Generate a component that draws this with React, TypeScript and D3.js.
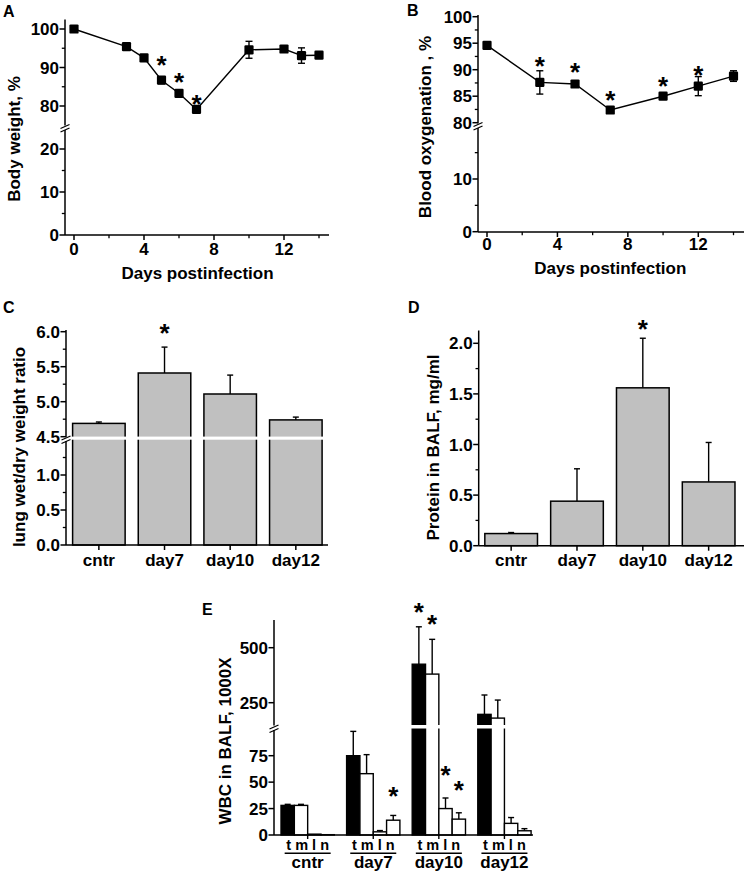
import React from 'react';
import * as d3 from 'd3';

const FONT = "'Liberation Sans', Arial, Helvetica, sans-serif";
const FS = 17;

// ===== Panel A: body weight
const daysA = [0, 3, 4, 5, 6, 7, 10, 12, 13, 14];
const weightA = [100, 95.4, 92.5, 86.7, 83.3, 79.1, 94.6, 94.8, 93.1, 93.2];
const weightErrA = [0.3, 0.5, 0.6, 0.9, 0.6, 0.7, 2.2, 0.5, 2.0, 0.4];
const starDaysA = [5, 6, 7];
const starValsA = [92.1, 87.6, 81.8];
const dayTicks = [0, 4, 8, 12];
const dayMinorTicks = [2, 6, 10, 14];
const yMajorUpA = [80, 90, 100];
const yMinorUpA = [85, 95];
const yMajorLoA = [0, 10, 20];
const yMinorLoA = [5, 15];

// ===== Panel B: blood oxygenation
const daysB = [0, 3, 5, 7, 10, 12, 14];
const oxyB = [94.6, 87.6, 87.3, 82.4, 85.0, 86.9, 88.8];
const oxyErrB = [0.4, 2.2, 0.5, 0.6, 0.4, 1.8, 1.0];
const starDaysB = [3, 5, 7, 10, 12];
const starValsB = [91.7, 90.6, 85.3, 87.9, 90.0];
const yMajorUpB = [80, 85, 90, 95, 100];
const yMinorUpB = [82.5, 87.5, 92.5, 97.5];
const yMajorLoB = [0, 10];
const yMinorLoB = [5, 15];

// ===== Panel C: lung wet/dry ratio
const groups = ['cntr', 'day7', 'day10', 'day12'];
const ratioC = [4.69, 5.41, 5.11, 4.74];
const ratioErrC = [0.02, 0.37, 0.27, 0.04];
const starGroupsC = ['day7'];
const starValsC = [6.06];
const yMajorUpC = [4.5, 5.0, 5.5, 6.0];
const yMinorUpC = [4.75, 5.25, 5.75];
const yMajorLoC = [0, 0.5, 1.0];
const yMinorLoC = [0.25, 0.75, 1.25];

// ===== Panel D: protein in BALF
const proteinD = [0.12, 0.44, 1.56, 0.63];
const proteinErrD = [0.01, 0.32, 0.49, 0.39];
const starGroupsD = ['day10'];
const starValsD = [2.19];
const yMajorD = [0, 0.5, 1.0, 1.5, 2.0];
const yMinorD = [0.25, 0.75, 1.25, 1.75];

// ===== Panel E: WBC in BALF
const cellTypes = ['t', 'm', 'l', 'n'];
const wbcTotal = [28, 75, 425, 197];
const wbcMono = [28, 58, 380, 180];
const wbcLymph = [0.8, 3, 25, 11];
const wbcNeut = [0.3, 14, 15, 4];
const wbcTotalErr = [1, 23, 170, 88];
const wbcMonoErr = [1, 18, 158, 82];
const wbcLymphErr = [0, 1.2, 10, 5.5];
const wbcNeutErr = [0, 4.5, 6, 2];
const starGroupsE = ['day10', 'day10', 'day10', 'day10', 'day7'];
const starTypesE = ['t', 'm', 'l', 'n', 'n'];
const starValsE = [686, 633, 62, 48, 42];
const yMajorUpE = [250, 500];
const yMajorLoE = [0, 25, 50, 75];

const fmt0 = (v: number) => String(v);
const fmt1 = (v: number) => v.toFixed(1);

function YTicks({ scale, x, major, minor, fmt }: any) {
  return (
    <g>
      {major.map((v: number) => (
        <g key={'M' + v}>
          <line x1={x - 5.5} x2={x} y1={scale(v)} y2={scale(v)} stroke="#000" strokeWidth={1.5} />
          <text x={x - 6} y={scale(v) + 6} textAnchor="end" fontSize={FS} fontWeight="bold">{fmt(v)}</text>
        </g>
      ))}
      {minor.map((v: number) => (
        <line key={'m' + v} x1={x - 3.2} x2={x} y1={scale(v)} y2={scale(v)} stroke="#000" strokeWidth={1.3} />
      ))}
    </g>
  );
}

function XTicks({ scale, y, major, minor, labelY }: any) {
  return (
    <g>
      {major.map((v: number) => (
        <g key={'M' + v}>
          <line x1={scale(v)} x2={scale(v)} y1={y} y2={y + 5} stroke="#000" strokeWidth={1.5} />
          <text x={scale(v)} y={labelY} textAnchor="middle" fontSize={FS} fontWeight="bold">{v}</text>
        </g>
      ))}
      {minor.map((v: number) => (
        <line key={'m' + v} x1={scale(v)} x2={scale(v)} y1={y} y2={y + 3.2} stroke="#000" strokeWidth={1.3} />
      ))}
    </g>
  );
}

function BreakMark({ x, y }: any) {
  return (
    <g stroke="#000" strokeWidth={1.3}>
      <line x1={x - 4.5} y1={y} x2={x + 4.5} y2={y - 4} />
      <line x1={x - 4.5} y1={y + 3.5} x2={x + 4.5} y2={y - 0.5} />
    </g>
  );
}

function Star({ x, y, size = 26 }: any) {
  return (
    <text x={x} y={y + size * 0.55} textAnchor="middle" fontSize={size} fontWeight="bold">*</text>
  );
}

function VTitle({ x, y, text }: any) {
  return (
    <text transform={`translate(${x},${y}) rotate(-90)`} textAnchor="middle" fontSize={FS} fontWeight="bold">{text}</text>
  );
}

function ErrBar({ x, y1, y2, cap = 7 }: any) {
  return (
    <g stroke="#000" strokeWidth={1.4}>
      <line x1={x} x2={x} y1={y1} y2={y2} />
      <line x1={x - cap / 2} x2={x + cap / 2} y1={y2} y2={y2} />
    </g>
  );
}

function LinePanel({ letter, letterPos, days, vals, errs, starDays, starVals, x, yUp, yLo, ax, ay, axTop, upBottom, loTop, brk, xEnd,
  majUp, minUp, majLo, minLo, labelY, title, titlePos, yTitle, yTitlePos }: any) {
  const path = d3.line<number>().x((_, i) => x(days[i])).y((d) => yUp(d))(vals) as string;
  return (
    <g>
      <text x={letterPos[0]} y={letterPos[1]} fontSize={16} fontWeight="bold">{letter}</text>
      <line x1={ax} x2={ax} y1={axTop} y2={upBottom} stroke="#000" strokeWidth={1.5} />
      <line x1={ax} x2={ax} y1={loTop} y2={ay} stroke="#000" strokeWidth={1.5} />
      <BreakMark x={ax} y={brk} />
      <line x1={ax} x2={xEnd} y1={ay} y2={ay} stroke="#000" strokeWidth={1.5} />
      <YTicks scale={yUp} x={ax} major={majUp} minor={minUp} fmt={fmt0} />
      <YTicks scale={yLo} x={ax} major={majLo} minor={minLo} fmt={fmt0} />
      <XTicks scale={x} y={ay} major={dayTicks} minor={dayMinorTicks} labelY={labelY} />
      <text x={titlePos[0]} y={titlePos[1]} textAnchor="middle" fontSize={FS} fontWeight="bold">{title}</text>
      <VTitle x={yTitlePos[0]} y={yTitlePos[1]} text={yTitle} />
      <path d={path} fill="none" stroke="#000" strokeWidth={1.4} />
      {vals.map((v: number, i: number) => (
        <g key={i} stroke="#000" strokeWidth={1.4}>
          <line x1={x(days[i])} x2={x(days[i])} y1={yUp(v - errs[i])} y2={yUp(v + errs[i])} />
          <line x1={x(days[i]) - 3.5} x2={x(days[i]) + 3.5} y1={yUp(v + errs[i])} y2={yUp(v + errs[i])} />
          <line x1={x(days[i]) - 3.5} x2={x(days[i]) + 3.5} y1={yUp(v - errs[i])} y2={yUp(v - errs[i])} />
        </g>
      ))}
      {vals.map((v: number, i: number) => (
        <rect key={'p' + i} x={x(days[i]) - 4.6} y={yUp(v) - 4.6} width={9.2} height={9.2} rx={1.2} fill="#000" />
      ))}
      {starDays.map((d: number, i: number) => (
        <Star key={'s' + i} x={x(d)} y={yUp(starVals[i])} />
      ))}
    </g>
  );
}

function PanelA() {
  const x = d3.scaleLinear().domain([0, 14]).range([74, 319]);
  const yUp = d3.scaleLinear().domain([80, 100]).range([106, 29]);
  const yLo = d3.scaleLinear().domain([0, 20]).range([235, 149]);
  return (
    <LinePanel letter="A" letterPos={[3, 16.7]} days={daysA} vals={weightA} errs={weightErrA}
      starDays={starDaysA} starVals={starValsA} x={x} yUp={yUp} yLo={yLo}
      ax={65} ay={235} axTop={19.5} upBottom={125.5} loTop={130} brk={128.5} xEnd={329}
      majUp={yMajorUpA} minUp={yMinorUpA} majLo={yMajorLoA} minLo={yMinorLoA}
      labelY={255} title="Days postinfection" titlePos={[197.5, 279]}
      yTitle="Body weight, %" yTitlePos={[19.5, 139]} />
  );
}

function PanelB() {
  const x = d3.scaleLinear().domain([0, 14]).range([487, 733.5]);
  const yUp = d3.scaleLinear().domain([80, 100]).range([122.7, 16.7]);
  const yLo = d3.scaleLinear().domain([0, 10]).range([231.7, 179]);
  return (
    <LinePanel letter="B" letterPos={[407, 16]} days={daysB} vals={oxyB} errs={oxyErrB}
      starDays={starDaysB} starVals={starValsB} x={x} yUp={yUp} yLo={yLo}
      ax={478} ay={232} axTop={15} upBottom={123.5} loTop={128} brk={126.5} xEnd={744}
      majUp={yMajorUpB} minUp={yMinorUpB} majLo={yMajorLoB} minLo={yMinorLoB}
      labelY={249.5} title="Days postinfection" titlePos={[610.3, 274]}
      yTitle="Blood oxygenation , %" yTitlePos={[431, 127]} />
  );
}

function BarPanel({ letter, letterPos, vals, errs, starGroups, starVals, ax, ay, axTop, xr, yMap, ticksFn, band, yTitle, yTitlePos, xEnd }: any) {
  const x = d3.scaleBand<string>().domain(groups).range(xr).paddingInner(0.2).paddingOuter(0.093);
  return (
    <g>
      <text x={letterPos[0]} y={letterPos[1]} fontSize={16} fontWeight="bold">{letter}</text>
      {vals.map((v: number, i: number) => (
        <g key={i}>
          <ErrBar x={(x(groups[i]) as number) + x.bandwidth() / 2} y1={yMap(v)} y2={yMap(v + errs[i])} cap={6} />
          <rect x={x(groups[i])} y={yMap(v)} width={x.bandwidth()} height={ay - yMap(v)} fill="#c0c0c0" stroke="#000" strokeWidth={1.5} />
        </g>
      ))}
      {band && <rect x={ax + 1} y={band[0]} width={xEnd - ax} height={band[1] - band[0]} fill="#fff" />}
      {ticksFn}
      {groups.map((g) => (
        <g key={g}>
          <line x1={(x(g) as number) + x.bandwidth() / 2} x2={(x(g) as number) + x.bandwidth() / 2} y1={ay} y2={ay + 5} stroke="#000" strokeWidth={1.5} />
          <text x={(x(g) as number) + x.bandwidth() / 2} y={566} textAnchor="middle" fontSize={FS} fontWeight="bold">{g}</text>
        </g>
      ))}
      <line x1={ax} x2={xEnd} y1={ay} y2={ay} stroke="#000" strokeWidth={1.5} />
      {starGroups.map((g: string, i: number) => (
        <Star key={'s' + i} x={(x(g) as number) + x.bandwidth() / 2} y={yMap(starVals[i])} />
      ))}
      <VTitle x={yTitlePos[0]} y={yTitlePos[1]} text={yTitle} />
    </g>
  );
}

function PanelC() {
  const yUp = d3.scaleLinear().domain([4.5, 6.0]).range([436.7, 331.7]);
  const yLo = d3.scaleLinear().domain([0, 1.0]).range([545, 475]);
  const yMap = (v: number) => (v >= 4.5 ? yUp(v) : yLo(v));
  const ax = 66;
  const ticks = (
    <g>
      <line x1={ax} x2={ax} y1={330} y2={437} stroke="#000" strokeWidth={1.5} />
      <line x1={ax} x2={ax} y1={441} y2={545} stroke="#000" strokeWidth={1.5} />
      <BreakMark x={ax} y={440} />
      <YTicks scale={yUp} x={ax} major={yMajorUpC} minor={yMinorUpC} fmt={fmt1} />
      <YTicks scale={yLo} x={ax} major={yMajorLoC} minor={yMinorLoC} fmt={fmt1} />
    </g>
  );
  return (
    <BarPanel letter="C" letterPos={[3, 313.3]} vals={ratioC} errs={ratioErrC} starGroups={starGroupsC} starVals={starValsC}
      ax={ax} ay={545} xr={[66.5, 328.2]} yMap={yMap} ticksFn={ticks} band={[436.6, 439.7]} xEnd={328}
      yTitle="lung wet/dry weight ratio" yTitlePos={[25, 447]} />
  );
}

function PanelD() {
  const y = d3.scaleLinear().domain([0, 2.0]).range([545.7, 343.3]);
  const ax = 478.7;
  const ticks = (
    <g>
      <line x1={ax} x2={ax} y1={330.5} y2={545.7} stroke="#000" strokeWidth={1.5} />
      <YTicks scale={y} x={ax} major={yMajorD} minor={yMinorD} fmt={fmt1} />
    </g>
  );
  return (
    <BarPanel letter="D" letterPos={[408, 313.3]} vals={proteinD} errs={proteinErrD} starGroups={starGroupsD} starVals={starValsD}
      ax={ax} ay={545.7} xr={[478.7, 741.1]} yMap={y} ticksFn={ticks} band={null} xEnd={744}
      yTitle="Protein in BALF, mg/ml" yTitlePos={[439, 447.5]} />
  );
}

function PanelE() {
  const ax = 274, ay = 835;
  const yUp = d3.scaleLinear().domain([250, 500]).range([702.7, 647.7]);
  const yLo = d3.scaleLinear().domain([0, 75]).range([835, 755.7]);
  const yMap = (v: number) => (v > 120 ? yUp(v) : yLo(v));
  const x0 = d3.scaleBand<string>().domain(groups).range([274, 538.1]).paddingInner(0.1875).paddingOuter(0.107);
  const x1 = d3.scaleBand<string>().domain(cellTypes).range([0, x0.bandwidth()]);
  const series = [wbcTotal, wbcMono, wbcLymph, wbcNeut];
  const errs = [wbcTotalErr, wbcMonoErr, wbcLymphErr, wbcNeutErr];
  const fills = ['#000', '#fff', '#fff', '#fff'];
  const bx = (g: string, t: string) => (x0(g) as number) + (x1(t) as number);
  return (
    <g>
      <text x={202} y={615} fontSize={16} fontWeight="bold">E</text>
      {groups.map((g, gi) => (
        <g key={g}>
          {cellTypes.map((t, ti) => {
            const v = series[ti][gi];
            const e = errs[ti][gi];
            const cx = bx(g, t) + x1.bandwidth() / 2;
            return (
              <g key={t}>
                {e > 0 && <ErrBar x={cx} y1={yMap(v)} y2={yMap(v + e)} cap={6} />}
                <rect x={bx(g, t)} y={yMap(v)} width={x1.bandwidth()} height={ay - yMap(v)} fill={fills[ti]} stroke="#000" strokeWidth={1.4} />
              </g>
            );
          })}
        </g>
      ))}
      <rect x={ax + 1} y={725} width={262} height={3.5} fill="#fff" />
      <line x1={ax} x2={ax} y1={620} y2={725.5} stroke="#000" strokeWidth={1.5} />
      <line x1={ax} x2={ax} y1={730} y2={ay} stroke="#000" strokeWidth={1.5} />
      <BreakMark x={ax} y={729} />
      <YTicks scale={yUp} x={ax} major={yMajorUpE} minor={[]} fmt={fmt0} />
      <YTicks scale={yLo} x={ax} major={yMajorLoE} minor={[]} fmt={fmt0} />
      <line x1={ax} x2={533} y1={ay} y2={ay} stroke="#000" strokeWidth={1.5} />
      {groups.map((g) => {
        const c = (x0(g) as number) + x0.bandwidth() / 2;
        return (
          <g key={g}>
            <line x1={c} x2={c} y1={ay} y2={ay + 4} stroke="#000" strokeWidth={1.4} />
            <text x={c} y={850} textAnchor="middle" fontSize={14.5} fontWeight="bold">{cellTypes.join(' ')}</text>
            <line x1={c - 23} x2={c + 23} y1={853.3} y2={853.3} stroke="#000" strokeWidth={1.4} />
            <text x={c} y={868} textAnchor="middle" fontSize={FS} fontWeight="bold">{g}</text>
          </g>
        );
      })}
      {starGroupsE.map((g, i) => (
        <Star key={'s' + i} x={bx(g, starTypesE[i]) + x1.bandwidth() / 2} y={yMap(starValsE[i])} />
      ))}
      <VTitle x={230.5} y={741} text="WBC in BALF, 1000X" />
    </g>
  );
}

export default function App() {
  return (
    <svg width={744} height={875} viewBox="0 0 744 875" fontFamily={FONT}
      style={{ position: 'absolute', left: 0, top: 0, background: '#fff' }}>
      <rect width={744} height={875} fill="#fff" />
      <PanelA />
      <PanelB />
      <PanelC />
      <PanelD />
      <PanelE />
    </svg>
  );
}
